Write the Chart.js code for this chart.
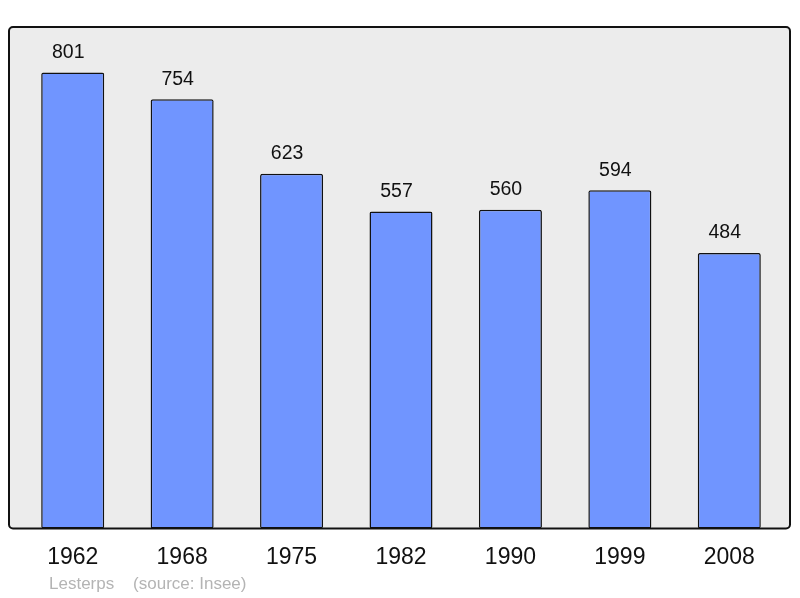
<!DOCTYPE html>
<html>
<head>
<meta charset="utf-8">
<script src="https://cdn.jsdelivr.net/npm/chart.js@4/dist/chart.umd.min.js"></script>
<style>
html,body{margin:0;padding:0;background:#fff;}
#wrap{width:800px;height:598px;}
</style>
</head>
<body>
<div id="wrap"><canvas id="c" width="800" height="598"></canvas></div>
<script>
const years = ["1962","1968","1975","1982","1990","1999","2008"];
const population = [801,754,623,557,560,594,484];
const footerText = "Lesterps    (source: Insee)";

const FONT = "'Liberation Sans', Arial, sans-serif";

const boxPlugin = {
  id: 'box',
  beforeDatasetsDraw(chart) {
    const {ctx, chartArea: a} = chart;
    const l = a.left - 9, r = a.right + 6, t = a.top, b = a.bottom;
    ctx.save();
    ctx.beginPath();
    ctx.roundRect(l, t, r - l, b - t, 4);
    ctx.fillStyle = '#ececec';
    ctx.fill();
    ctx.restore();
  },
  afterDatasetsDraw(chart) {
    const {ctx, chartArea: a} = chart;
    const l = a.left - 9, r = a.right + 6, t = a.top, b = a.bottom;
    ctx.save();
    ctx.beginPath();
    ctx.roundRect(l, t, r - l, b - t, 4);
    ctx.lineWidth = 2;
    ctx.strokeStyle = '#111';
    ctx.stroke();
    // value labels
    const meta = chart.getDatasetMeta(0);
    ctx.font = "19.5px " + FONT;
    ctx.fillStyle = '#111';
    ctx.textAlign = 'center';
    ctx.textBaseline = 'alphabetic';
    meta.data.forEach((bar, i) => {
      ctx.fillText(String(population[i]), bar.x - 4.5, bar.y - 14.5);
    });
    // footer
    ctx.font = "17px " + FONT;
    ctx.fillStyle = '#b4b4b4';
    ctx.textAlign = 'left';
    ctx.textBaseline = 'middle';
    ctx.fillText(footerText, a.left + 31, 584);
    ctx.restore();
  }
};

new Chart(document.getElementById('c'), {
  type: 'bar',
  data: {
    labels: years,
    datasets: [{
      data: population,
      backgroundColor: '#7095ff',
      borderColor: '#111',
      borderWidth: 1.5,
      borderRadius: 2,
      borderSkipped: false,
      barPercentage: 0.576,
      categoryPercentage: 1
    }]
  },
  options: {
    responsive: false,
    animation: false,
    layout: { padding: { left: 18, right: 16, top: 27, bottom: 20 } },
    plugins: { legend: { display: false }, tooltip: { enabled: false } },
    scales: {
      y: { display: false, min: 0, max: 881 },
      x: {
        grid: { display: false },
        border: { display: false },
        ticks: { color: '#111', font: { family: FONT, size: 23 }, padding: 7 }
      }
    }
  },
  plugins: [boxPlugin]
});
</script>
</body>
</html>
